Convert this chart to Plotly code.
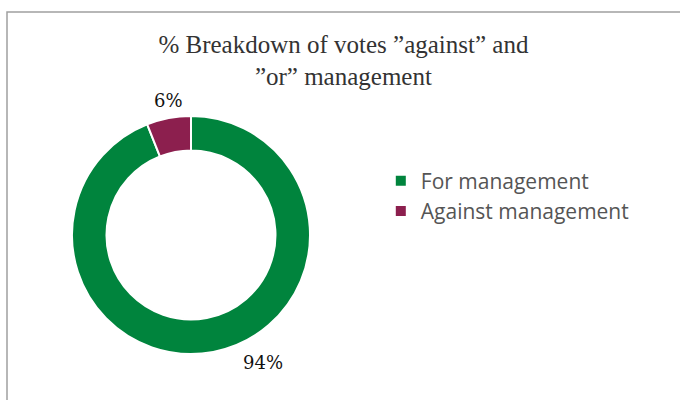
import plotly.graph_objects as go

categories = ["For management", "Against management"]
values = [94, 6]
labels_text = ["94%", "6%"]
colors = ["#00843D", "#8C1F4E"]

fig = go.Figure()
fig.add_trace(go.Pie(
    labels=categories,
    values=values,
    textinfo="none",
    hole=0.71,
    sort=False,
    direction="clockwise",
    rotation=0,
    marker=dict(colors=colors, line=dict(color="white", width=2)),
    domain=dict(x=[72/680, 310/680], y=[46/400, 284/400]),
    showlegend=True,
))

label_pos = [(263/680, 1-362/400), (168/680, 1-101/400)]
for txt, (lx, ly) in zip(labels_text, label_pos):
    fig.add_annotation(x=lx, y=ly, xref="paper", yref="paper", text=txt,
                       showarrow=False, xanchor="center", yanchor="middle",
                       font=dict(family="DejaVu Serif", size=18, color="#111"))

fig.update_layout(
    width=680, height=400,
    margin=dict(l=0, r=0, t=0, b=0),
    paper_bgcolor="white",
    title=dict(
        text="% Breakdown of votes \u201dagainst\u201d and<br>\u201dor\u201d management",
        font=dict(family="Liberation Serif", size=25, color="#333"),
        x=0.505, xanchor="center", y=0.868, yanchor="middle",
    ),
    legend=dict(
        x=0.56, y=0.51, xanchor="left", yanchor="middle",
        font=dict(family="Open Sans", size=21, color="#555"),
    ),
    shapes=[dict(type="rect", xref="paper", yref="paper",
                 x0=7/680, x1=1.02, y0=-0.02, y1=1-12/400,
                 line=dict(color="#A0A0A0", width=1.5))],
)

fig.write_html("out.html")
